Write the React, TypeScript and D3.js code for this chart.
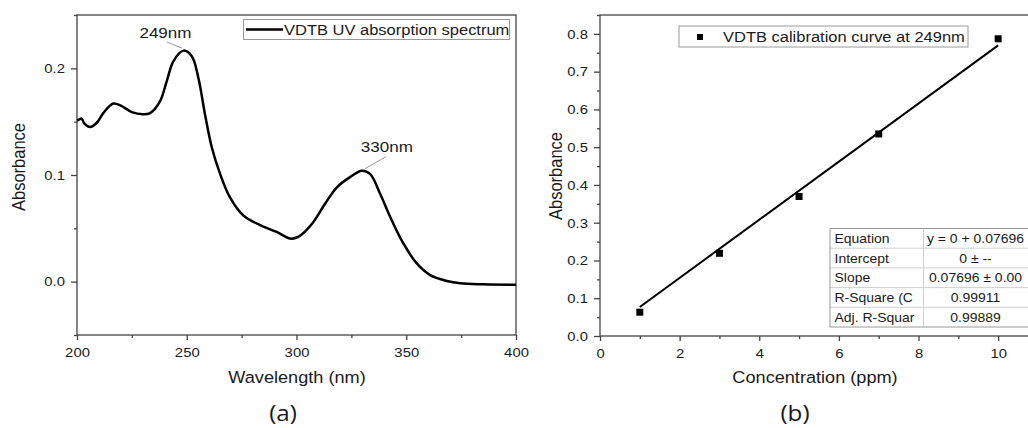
import { useEffect, useRef } from "react";
import * as d3 from "d3";

const W = 1028;
const H = 428;
const FONT = "'Liberation Sans', Arial, Helvetica, sans-serif";
const SX = 1.1; // text in the reference is a little wider than plain Arial
const INK = "#1a1a1a";
const AXIS = "#444";

// (a) UV spectrum
const wavelength = [
  200, 201, 202, 203.5, 206, 209, 212, 216.5, 220, 225, 230, 233.3, 237.8, 240.9,
  243.9, 248.5, 252.3, 255.3, 258.3, 261.4, 265.2, 269.7, 275.8, 283.4, 291, 297.1,
  300.1, 302.5, 307.7, 313, 318.4, 324.4, 329.8, 333.5, 338.1, 342.7, 348.7, 354.8,
  360.9, 368.5, 374.6, 385, 400,
];
const absorbance = [
  0.151, 0.152, 0.153, 0.148, 0.145, 0.149, 0.158, 0.167, 0.165, 0.159, 0.157, 0.158,
  0.169, 0.188, 0.2066, 0.2166, 0.2113, 0.191, 0.157, 0.126, 0.101, 0.079, 0.062,
  0.053, 0.0466, 0.0404, 0.0414, 0.0445, 0.056, 0.073, 0.0885, 0.098, 0.104, 0.101,
  0.0824, 0.0606, 0.0358, 0.0171, 0.0062, 0.0007, -0.0015, -0.0025, -0.003,
];
const peakLabels = ["249nm", "330nm"];
const peakAt = [248.5, 329.8];

// (b) calibration
const concentration = [1, 3, 5, 7, 10];
const calAbsorbance = [0.063, 0.219, 0.3695, 0.535, 0.787];
const slope = 0.07696;
const fitNames = ["Equation", "Intercept", "Slope", "R-Square (C", "Adj. R-Squar"];
const fitValues = ["y = 0 + 0.07696", "0 \u00b1 --", "0.07696 \u00b1 0.00", "0.99911", "0.99889"];

const xTicksA = [200, 250, 300, 350, 400];
const yTicksA = [0, 0.1, 0.2];
const xTicksB = [0, 2, 4, 6, 8, 10];
const yTicksB = [0, 0.1, 0.2, 0.3, 0.4, 0.5, 0.6, 0.7, 0.8];

type G = d3.Selection<SVGGElement, unknown, null, undefined>;

function label(g: G, x: number, y: number, s: string, size: number, anchor = "start", rot = 0) {
  return g
    .append("text")
    .attr("transform", `translate(${x},${y}) scale(${SX},1)${rot ? ` rotate(${rot})` : ""}`)
    .attr("text-anchor", anchor)
    .attr("font-family", FONT)
    .attr("font-size", size)
    .attr("fill", INK)
    .text(s);
}

function axes(
  g: G,
  x: d3.ScaleLinear<number, number>,
  y: d3.ScaleLinear<number, number>,
  xt: number[],
  yt: number[],
  xMinor: number[],
  yMinor: number[],
  yFmt: (d: number) => string
) {
  const [x0, x1] = x.range();
  const [y0, y1] = y.range();
  g.append("rect")
    .attr("x", x0)
    .attr("y", y1)
    .attr("width", x1 - x0)
    .attr("height", y0 - y1)
    .attr("fill", "none")
    .attr("stroke", AXIS)
    .attr("stroke-width", 1.3);

  const style = (sel: G) => {
    sel.select(".domain").remove();
    sel.selectAll(".tick line").attr("stroke", AXIS).attr("stroke-width", 1.3);
    sel
      .selectAll<SVGTextElement, unknown>(".tick text")
      .attr("font-family", FONT)
      .attr("font-size", 13.5)
      .attr("fill", INK)
      .attr("transform", `scale(${SX},1)`);
  };

  g.append("g")
    .attr("transform", `translate(0,${y0})`)
    .call(d3.axisBottom(x).tickValues(xMinor).tickSize(3).tickFormat(() => ""))
    .call(style);
  g.append("g")
    .attr("transform", `translate(0,${y0})`)
    .call(d3.axisBottom(x).tickValues(xt).tickSize(5).tickPadding(7).tickFormat((d) => String(d)))
    .call(style);
  g.append("g")
    .attr("transform", `translate(${x0},0)`)
    .call(d3.axisLeft(y).tickValues(yMinor).tickSize(3).tickFormat(() => ""))
    .call(style);
  g.append("g")
    .attr("transform", `translate(${x0},0)`)
    .call(d3.axisLeft(y).tickValues(yt).tickSize(6).tickPadding(5).tickFormat((d) => yFmt(+d)))
    .call(style);
}

export default function App() {
  const ref = useRef<SVGSVGElement | null>(null);

  useEffect(() => {
    const el = ref.current;
    if (!el) return;
    const svg = d3.select(el);
    svg.selectAll("*").remove();
    const root = svg.append("g") as G;

    // ---------- panel (a) ----------
    const xa = d3.scaleLinear().domain([200, 400]).range([77, 516]);
    const ya = d3.scaleLinear().domain([-0.05, 0.25]).range([335, 15]);
    const ga = root.append("g") as G;

    axes(
      ga,
      xa,
      ya,
      xTicksA,
      yTicksA,
      [225, 275, 325, 375],
      [-0.05, 0.05, 0.15, 0.25],
      (d) => d3.format(".1f")(d)
    );

    const spec = wavelength.map((w, i) => [w, absorbance[i]] as [number, number]);
    ga.append("path")
      .datum(spec)
      .attr("fill", "none")
      .attr("stroke", "#000")
      .attr("stroke-width", 2.5)
      .attr("stroke-linejoin", "round")
      .attr(
        "d",
        d3
          .line<[number, number]>()
          .x((d) => xa(d[0]))
          .y((d) => ya(d[1]))
          .curve(d3.curveCatmullRom.alpha(0.5))
      );

    // peak annotations
    const offs = [
      { lx: -18, ly: -12.6, a: [-16.6, -8.6], b: [-1.6, -2.6] },
      { lx: 25, ly: -18.5, a: [3, -2], b: [24, -14] },
    ];
    peakAt.forEach((w, i) => {
      const idx = wavelength.indexOf(w);
      const px = xa(w);
      const py = ya(absorbance[idx]);
      const o = offs[i];
      ga.append("line")
        .attr("x1", px + o.a[0])
        .attr("y1", py + o.a[1])
        .attr("x2", px + o.b[0])
        .attr("y2", py + o.b[1])
        .attr("stroke", "#999")
        .attr("stroke-width", 1);
      label(ga, px + o.lx, py + o.ly, peakLabels[i], 15.5, "middle");
    });

    // legend (a)
    ga.append("rect")
      .attr("x", 243.5)
      .attr("y", 19.5)
      .attr("width", 266)
      .attr("height", 20)
      .attr("fill", "#fff")
      .attr("stroke", "#999")
      .attr("stroke-width", 1);
    ga.append("line")
      .attr("x1", 246)
      .attr("x2", 283)
      .attr("y1", 29.5)
      .attr("y2", 29.5)
      .attr("stroke", "#000")
      .attr("stroke-width", 2.5);
    label(ga, 284, 35, "VDTB UV absorption spectrum", 15);

    label(ga, 297, 383, "Wavelength (nm)", 16.5, "middle");
    label(ga, 25, 167, "Absorbance", 16.5, "middle", -90);

    // ---------- panel (b) ----------
    const xb = d3.scaleLinear().domain([0, 10.8]).range([600, 1030]);
    const yb = d3.scaleLinear().domain([0, 0.85]).range([336, 15]);
    const gb = root.append("g") as G;

    axes(
      gb,
      xb,
      yb,
      xTicksB,
      yTicksB,
      [1, 3, 5, 7, 9],
      [0.05, 0.15, 0.25, 0.35, 0.45, 0.55, 0.65, 0.75, 0.85],
      (d) => d3.format(".1f")(d)
    );

    const xFit = d3.extent(concentration) as [number, number];
    gb.append("line")
      .attr("x1", xb(xFit[0]))
      .attr("y1", yb(slope * xFit[0]))
      .attr("x2", xb(xFit[1]))
      .attr("y2", yb(slope * xFit[1]))
      .attr("stroke", "#000")
      .attr("stroke-width", 2);

    const sq = 7;
    gb.selectAll("rect.pt")
      .data(concentration)
      .join("rect")
      .attr("class", "pt")
      .attr("x", (d) => xb(d) - sq / 2)
      .attr("y", (_d, i) => yb(calAbsorbance[i]) - sq / 2)
      .attr("width", sq)
      .attr("height", sq)
      .attr("fill", "#000");

    // legend (b)
    gb.append("rect")
      .attr("x", 679)
      .attr("y", 26)
      .attr("width", 289)
      .attr("height", 21)
      .attr("fill", "#fff")
      .attr("stroke", "#999")
      .attr("stroke-width", 1);
    gb.append("rect")
      .attr("x", 700 - 3)
      .attr("y", 37 - 3)
      .attr("width", 6)
      .attr("height", 6)
      .attr("fill", "#000");
    label(gb, 723, 42, "VDTB calibration curve at 249nm", 15);

    // fit table
    const tx = 830;
    const ty = 228.5;
    const rowH = 19.7;
    const colX = 923.5;
    const tw = 205;
    const table = gb.append("g") as G;
    table
      .append("rect")
      .attr("x", tx)
      .attr("y", ty)
      .attr("width", tw)
      .attr("height", rowH * fitNames.length)
      .attr("fill", "#fff");
    fitNames.forEach((n, i) => {
      if (i > 0) {
        table
          .append("line")
          .attr("x1", tx)
          .attr("x2", tx + tw)
          .attr("y1", ty + rowH * i)
          .attr("y2", ty + rowH * i)
          .attr("stroke", "#d0d0d0")
          .attr("stroke-width", 1);
      }
      label(table, tx + 4.5, ty + rowH * i + 14.5, n, 12.7);
      label(table, 975.5, ty + rowH * i + 14.5, fitValues[i], 12.7, "middle");
    });
    table
      .append("line")
      .attr("x1", colX)
      .attr("x2", colX)
      .attr("y1", ty)
      .attr("y2", ty + rowH * fitNames.length)
      .attr("stroke", "#d0d0d0")
      .attr("stroke-width", 1);
    table
      .append("rect")
      .attr("x", tx)
      .attr("y", ty)
      .attr("width", tw)
      .attr("height", rowH * fitNames.length)
      .attr("fill", "none")
      .attr("stroke", "#999")
      .attr("stroke-width", 1);

    label(gb, 815, 383, "Concentration (ppm)", 16.5, "middle");
    label(gb, 562, 176, "Absorbance", 16.5, "middle", -90);

    // panel captions
    const caption = (x: number, s: string) =>
      root
        .append("text")
        .attr("transform", `translate(${x},421) scale(1.1,1)`)
        .attr("text-anchor", "middle")
        .attr("font-family", "'Open Sans', 'Noto Sans', sans-serif")
        .attr("font-size", 22)
        .attr("fill", INK)
        .text(s);
    caption(283, "(a)");
    caption(795, "(b)");
  }, []);

  return (
    <svg
      ref={ref}
      width={W}
      height={H}
      style={{ position: "absolute", left: 0, top: 0, background: "#fff" }}
    />
  );
}
